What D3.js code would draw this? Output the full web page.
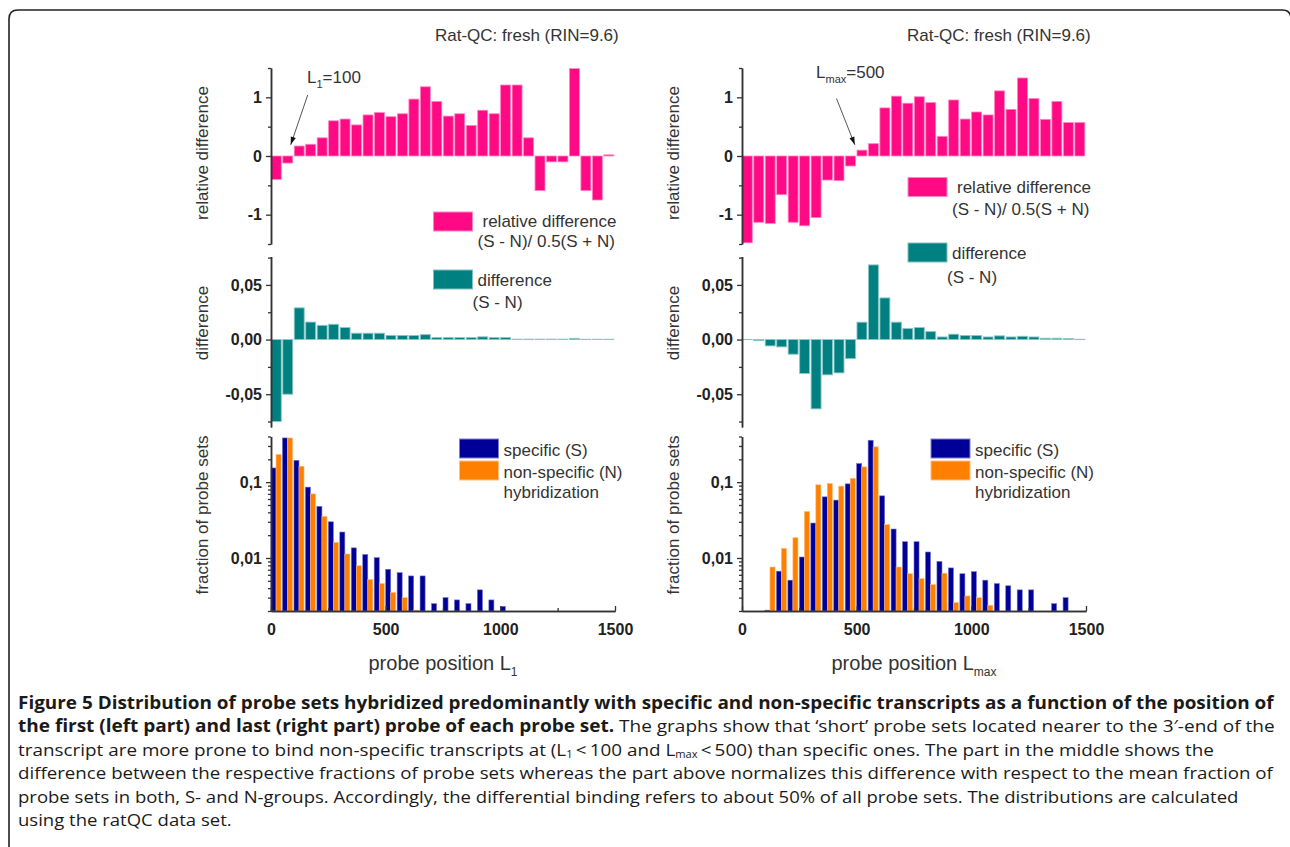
<!DOCTYPE html>
<html>
<head>
<meta charset="utf-8">
<script src="https://cdn.jsdelivr.net/npm/d3@7/dist/d3.min.js"></script>
<style>
  body { margin: 0; background: #fff; }
  svg { display: block; }
</style>
</head>
<body>
<svg id="fig" width="1290" height="847"></svg>
<script>
// bins of probe position (50 wide)
const binStarts = [0, 50, 100, 150, 200, 250, 300, 350, 400, 450, 500, 550, 600, 650, 700,
                   750, 800, 850, 900, 950, 1000, 1050, 1100, 1150, 1200, 1250, 1300, 1350, 1400, 1450];

// left column: first probe L1
const relDiffL1 = [-0.40, -0.12, 0.17, 0.20, 0.31, 0.60, 0.63, 0.53, 0.70, 0.74, 0.67, 0.72, 0.97, 1.18, 0.93,
                   0.68, 0.72, 0.52, 0.78, 0.72, 1.21, 1.21, 0.31, -0.59, -0.10, -0.10, 1.49, -0.59, -0.75, 0.02];
const diffL1 = [-0.075, -0.050, 0.029, 0.016, 0.013, 0.014, 0.011, 0.0058, 0.0058, 0.0058, 0.0038, 0.0038, 0.0038, 0.0045, 0.0018,
                0.0018, 0.0018, 0.0018, 0.0025, 0.0018, 0.0018, 0.0004, 0.0004, 0.0004, 0.0004, 0.0004, 0.0011, 0.0003, 0.0003, 0.0003];
const specL1 = [0.154, 0.383, 0.194, 0.086, 0.048, 0.030, 0.022, 0.0136, 0.0111, 0.0101, 0.0071, 0.0064, 0.0058, 0.0058, 0.0025,
                0.0030, 0.0028, 0.0025, 0.0038, 0.0028, 0.0023, null, null, null, null, null, null, null, null, null];
const nonspecL1 = [0.231, 0.383, 0.162, 0.070, 0.0353, 0.0161, 0.0113, 0.0079, 0.0052, 0.0046, 0.0035, 0.0030, 0.00205, null, null,
                   null, null, null, null, null, null, null, null, null, null, null, null, null, null, null];

// right column: last probe Lmax
const relDiffLmax = [-1.48, -1.13, -1.15, -0.66, -1.13, -1.19, -1.05, -0.41, -0.42, -0.17, 0.10, 0.21, 0.82, 1.02, 0.90,
                     1.01, 0.91, 0.335, 0.955, 0.63, 0.75, 0.70, 1.11, 0.795, 1.33, 0.98, 0.625, 0.93, 0.57, 0.57];
const diffLmax = [0.0001, -0.001, -0.0058, -0.0067, -0.0134, -0.031, -0.0634, -0.0323, -0.0305, -0.0174, 0.0159, 0.0683, 0.0381, 0.0159, 0.0101,
                  0.011, 0.0073, 0.0024, 0.0049, 0.0037, 0.0037, 0.0024, 0.0034, 0.0024, 0.003, 0.0024, 0.0012, 0.0012, 0.0009, 0.0003];
const specLmax = [null, null, 0.00205, 0.0067, 0.0051, 0.0103, 0.0289, 0.064, 0.058, 0.095, 0.176, 0.357, 0.066, 0.0241, 0.0164,
                  0.0164, 0.012, 0.009, 0.0074, 0.0062, 0.0066, 0.0051, 0.0046, 0.0043, 0.0038, 0.0038, null, 0.0025, 0.003, null];
const nonspecLmax = [null, null, 0.0076, 0.0134, 0.0185, 0.041, 0.0922, 0.096, 0.0886, 0.112, 0.159, 0.292, 0.0275, 0.0076, 0.0062,
                     0.00534, 0.00446, 0.0063, 0.00258, 0.00316, 0.0030, 0.00238, null, null, null, null, null, null, null, null];

// ticks
const relTicks = [-1, 0, 1], relLabels = ["-1", "0", "1"], relMinor = [-1.5, -0.5, 0.5, 1.5];
const diffTicks = [-0.05, 0, 0.05], diffLabels = ["-0,05", "0,00", "0,05"], diffMinor = [-0.075, -0.025, 0.025, 0.075];
const fracTicks = [0.01, 0.1], fracLabels = ["0,01", "0,1"];
const fracMinor = [0.002, 0.003, 0.004, 0.005, 0.006, 0.007, 0.008, 0.009, 0.02, 0.03, 0.04, 0.05, 0.06, 0.07, 0.08, 0.09, 0.2, 0.3, 0.4];
const xTicks = [0, 500, 1000, 1500], xLabels = ["0", "500", "1000", "1500"], xMinor = [250, 750, 1250];

const pink = "#ff0a84", teal = "#008080", navy = "#000099", orange = "#ff8000";
const chartFont = "'Liberation Sans', Arial, sans-serif";
const textCol = "#333";

const svg = d3.select("#fig");

// figure frame (rounded top corners, continues off the page)
svg.append("path")
    .attr("d", "M9,847 L9,19 Q9,10 18,10 L1282,10 Q1291,10 1291,19 L1291,847")
    .attr("fill", "none")
    .attr("stroke", "#222")
    .attr("stroke-width", 1.6);

const yRel = d3.scaleLinear().domain([-1.5, 1.5]).range([244, 68]);
const yDiff = d3.scaleLinear().domain([-0.08, 0.076]).range([427, 256.5]);
const yFrac = d3.scaleLog().domain([0.002, 0.4]).range([611, 436.5]);

function styleAxis(g) {
    g.select(".domain").attr("stroke", "#333").attr("stroke-width", 1.5);
    g.selectAll(".tick line").attr("stroke", "#333").attr("stroke-width", 1.3);
    g.selectAll(".tick text")
        .attr("font-family", chartFont)
        .attr("font-size", 16)
        .attr("font-weight", "bold")
        .attr("fill", "#222");
}

function yAxis(x0, y, ticks, labels, minor) {
    const g = svg.append("g").attr("transform", `translate(${x0},0)`);
    g.append("g")
        .call(d3.axisLeft(y).tickValues(minor).tickSize(3).tickSizeOuter(0).tickFormat(""))
        .call(styleAxis);
    g.append("g")
        .call(d3.axisLeft(y).tickValues(ticks).tickSize(5).tickSizeOuter(0).tickPadding(4)
            .tickFormat((d, i) => labels[i]))
        .call(styleAxis);
}

function vText(x, y, txt) {
    svg.append("text")
        .attr("transform", `translate(${x},${y}) rotate(-90)`)
        .attr("text-anchor", "middle")
        .attr("font-family", chartFont)
        .attr("font-size", 17)
        .attr("fill", textCol)
        .text(txt);
}

// text with optional subscripts; the text after a subscript gets the baseline back
function label(x, y, parts, size) {
    const t = svg.append("text")
        .attr("x", x).attr("y", y)
        .attr("font-family", chartFont)
        .attr("font-size", size || 17)
        .attr("fill", textCol);
    let back = 0;
    parts.forEach(p => {
        if (p.sub) {
            t.append("tspan").attr("font-size", 11).attr("dy", 5).text(p.sub);
            back = -5;
        } else {
            t.append("tspan").attr("dy", back || null).text(p.t);
            back = 0;
        }
    });
    return t;
}

function arrow(x1, y1, x2, y2) {
    svg.append("line")
        .attr("x1", x1).attr("y1", y1).attr("x2", x2).attr("y2", y2)
        .attr("stroke", "#555").attr("stroke-width", 1);
    const a = Math.atan2(y2 - y1, x2 - x1), len = 8, w = 2.6;
    const bx = x2 - len * Math.cos(a), by = y2 - len * Math.sin(a);
    svg.append("polygon")
        .attr("points", [[x2, y2],
            [bx + w * Math.sin(a), by - w * Math.cos(a)],
            [bx - w * Math.sin(a), by + w * Math.cos(a)]].map(p => p.join(",")).join(" "))
        .attr("fill", "#111");
}

function legendBox(x, y, col) {
    svg.append("rect")
        .attr("x", x).attr("y", y).attr("width", 39).attr("height", 19)
        .attr("fill", col).attr("stroke", d3.interpolateRgb(col, "#fff")(0.5)).attr("stroke-width", 1);
}

function drawColumn(c) {
    const x = d3.scaleLinear().domain([0, 1500]).range([c.x0, c.x0 + 344]);
    const lightPink = d3.interpolateRgb(pink, "#fff")(0.5);
    const lightTeal = d3.interpolateRgb(teal, "#fff")(0.55);

    // top: relative difference
    svg.append("g").selectAll("rect")
        .data(c.rel)
        .join("rect")
        .attr("x", (d, i) => x(binStarts[i]) + 0.3)
        .attr("width", (d, i) => x(binStarts[i] + 50) - x(binStarts[i]) - 1.5)
        .attr("y", d => yRel(Math.max(0, d)))
        .attr("height", d => Math.abs(yRel(d) - yRel(0)))
        .attr("fill", pink)
        .attr("stroke", lightPink).attr("stroke-width", 0.8);
    yAxis(c.x0, yRel, relTicks, relLabels, relMinor);

    // middle: difference
    svg.append("g").selectAll("rect")
        .data(c.diff)
        .join("rect")
        .attr("x", (d, i) => x(binStarts[i]) + 0.3)
        .attr("width", (d, i) => x(binStarts[i] + 50) - x(binStarts[i]) - 1.5)
        .attr("y", d => yDiff(Math.max(0, d)))
        .attr("height", d => Math.abs(yDiff(d) - yDiff(0)))
        .attr("fill", teal)
        .attr("stroke", lightTeal).attr("stroke-width", 0.9);
    yAxis(c.x0, yDiff, diffTicks, diffLabels, diffMinor);

    // bottom: fractions S and N
    const series = [
        {vals: c.spec, col: navy, off: 0},
        {vals: c.nonspec, col: orange, off: 22}
    ];
    series.forEach(s => {
        const pts = s.vals.map((v, i) => ({b: binStarts[i], v})).filter(d => d.v != null);
        svg.append("g").selectAll("rect")
            .data(pts)
            .join("rect")
            .attr("x", d => x(d.b + s.off))
            .attr("width", d => x(d.b + s.off + 22) - x(d.b + s.off))
            .attr("y", d => yFrac(d.v))
            .attr("height", d => yFrac(0.002) - yFrac(d.v))
            .attr("fill", s.col)
            .attr("stroke", d3.interpolateRgb(s.col, "#fff")(0.45)).attr("stroke-width", 0.6);
    });
    yAxis(c.x0, yFrac, fracTicks, fracLabels, fracMinor);

    const gx = svg.append("g").attr("transform", `translate(0,${yFrac(0.002)})`);
    gx.append("g")
        .call(d3.axisBottom(x).tickValues(xMinor).tickSizeInner(-3).tickSizeOuter(0).tickFormat(""))
        .call(styleAxis);
    gx.append("g")
        .call(d3.axisBottom(x).tickValues(xTicks).tickSizeInner(-5).tickSizeOuter(0).tickPadding(13)
            .tickFormat((d, i) => xLabels[i]))
        .call(styleAxis);

    // axis titles
    vText(c.x0 - 63, 153, "relative difference");
    vText(c.x0 - 63, 323, "difference");
    vText(c.x0 - 63, 515, "fraction of probe sets");

    const xt = svg.append("text")
        .attr("x", (x(0) + x(1500)) / 2).attr("y", 670)
        .attr("text-anchor", "middle")
        .attr("font-family", chartFont).attr("font-size", 20).attr("fill", textCol);
    xt.append("tspan").text("probe position L");
    xt.append("tspan").attr("font-size", 12).attr("dy", 6).text(c.sub);

    // panel title
    label(c.titleX, 41, [{t: "Rat-QC: fresh (RIN=9.6)"}]);

    // annotation
    label(c.annX, c.annY, [{t: "L"}, {sub: c.sub}, {t: c.annVal}]);
    arrow(x(c.arrowFrom[0]), yRel(c.arrowFrom[1]), x(c.arrowTo[0]), yRel(c.arrowTo[1]));

    // legends
    legendBox(c.legRel[0], c.legRel[1], pink);
    label(c.legRel[0] + 49, c.legRel[1] + 15, [{t: "relative difference"}]);
    label(c.legRel[0] + 44, c.legRel[1] + 35 + c.legGap, [{t: "(S - N)/ 0.5(S + N)"}]);

    legendBox(c.legDiff[0], c.legDiff[1], teal);
    label(c.legDiff[0] + 44, c.legDiff[1] + 16, [{t: "difference"}]);
    label(c.legDiff[0] + 39, c.legDiff[1] + 38 + c.legGap, [{t: "(S - N)"}]);

    legendBox(c.legFrac[0], 439, navy);
    legendBox(c.legFrac[0], 461, orange);
    label(c.legFrac[0] + 44, 456, [{t: "specific (S)"}]);
    label(c.legFrac[0] + 44, 478, [{t: "non-specific (N)"}]);
    label(c.legFrac[0] + 44, 498, [{t: "hybridization"}]);
}

drawColumn({
    x0: 271, rel: relDiffL1, diff: diffL1, spec: specL1, nonspec: nonspecL1,
    sub: "1", titleX: 435, annX: 307, annY: 83, annVal: "=100",
    arrowFrom: [160, 1.04], arrowTo: [86, 0.19],
    legRel: [433.5, 212], legDiff: [433.5, 270], legFrac: [459.5], legGap: 0
});
drawColumn({
    x0: 742, rel: relDiffLmax, diff: diffLmax, spec: specLmax, nonspec: nonspecLmax,
    sub: "max", titleX: 907, annX: 816, annY: 78, annVal: "=500",
    arrowFrom: [412, 0.98], arrowTo: [492, 0.19],
    legRel: [908, 177.5], legDiff: [908, 243], legFrac: [931], legGap: 2
});

// caption (justified lines; last line keeps the previous line's squeeze)
const capLines = [
    {y: 709, end: 1275, parts: [{t: "Figure 5 Distribution of probe sets hybridized predominantly with specific and non-specific transcripts as a function of the position of", b: true}]},
    {y: 732, end: 1276, parts: [{t: "the first (left part) and last (right part) probe of each probe set.", b: true},
        {t: " The graphs show that \u2018short\u2019 probe sets located nearer to the 3\u2032-end of the"}]},
    {y: 756, end: 1215, parts: [{t: "transcript are more prone to bind non-specific transcripts at (L"}, {sub: "1"},
        {t: "\u2009<\u2009100 and L"}, {sub: "max"}, {t: "\u2009<\u2009500) than specific ones. The part in the middle shows the"}]},
    {y: 779, end: 1274, parts: [{t: "difference between the respective fractions of probe sets whereas the part above normalizes this difference with respect to the mean fraction of"}]},
    {y: 803, end: 1240, parts: [{t: "probe sets in both, S- and N-groups. Accordingly, the differential binding refers to about 50% of all probe sets. The distributions are calculated"}]},
    {y: 826, end: null, parts: [{t: "using the ratQC data set."}]}
];

let lastK = 1;
capLines.forEach(line => {
    const t = svg.append("text")
        .attr("x", 0).attr("y", 0)
        .attr("font-family", "'Open Sans', 'Noto Sans', sans-serif")
        .attr("font-size", 17)
        .attr("fill", "#1a1a1a");
    let back = 0;
    line.parts.forEach(p => {
        if (p.sub) {
            t.append("tspan").attr("font-size", 10).attr("dy", 1.5).text(p.sub);
            back = -1.5;
        } else {
            t.append("tspan").attr("dy", back || null)
                .attr("font-weight", p.b ? "bold" : "normal").text(p.t);
            back = 0;
        }
    });
    const w = t.node().getComputedTextLength();
    const k = line.end ? (line.end - 18) / w : lastK;
    lastK = k;
    t.attr("transform", `translate(18,${line.y}) scale(${k},1)`);
});
</script>
</body>
</html>
